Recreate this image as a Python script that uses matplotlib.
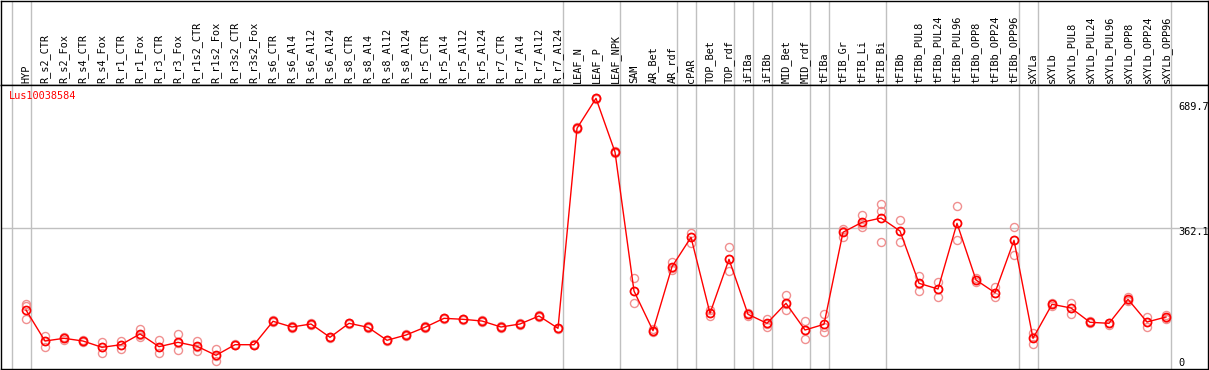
import matplotlib
matplotlib.use('Agg')
import matplotlib.pyplot as plt
import matplotlib.transforms as mtransforms

# gene / sample names
gene = 'Lus10038584'
samples = ['HYP', 'R_s2_CTR', 'R_s2_Fox', 'R_s4_CTR', 'R_s4_Fox', 'R_r1_CTR', 'R_r1_Fox',
           'R_r3_CTR', 'R_r3_Fox', 'R_r1s2_CTR', 'R_r1s2_Fox', 'R_r3s2_CTR', 'R_r3s2_Fox',
           'R_s6_CTR', 'R_s6_Al4', 'R_s6_Al12', 'R_s6_Al24', 'R_s8_CTR', 'R_s8_Al4',
           'R_s8_Al12', 'R_s8_Al24', 'R_r5_CTR', 'R_r5_Al4', 'R_r5_Al12', 'R_r5_Al24',
           'R_r7_CTR', 'R_r7_Al4', 'R_r7_Al12', 'R_r7_Al24', 'LEAF_N', 'LEAF_P', 'LEAF_NPK',
           'SAM', 'AR_Bet', 'AR_rdf', 'cPAR', 'TOP_Bet', 'TOP_rdf', 'iFIBa', 'iFIBb',
           'MID_Bet', 'MID_rdf', 'tFIBa', 'tFIB_Gr', 'tFIB_Li', 'tFIB_Bi', 'tFIBb',
           'tFIBb_PUL8', 'tFIBb_PUL24', 'tFIBb_PUL96', 'tFIBb_OPP8', 'tFIBb_OPP24',
           'tFIBb_OPP96', 'sXYLa', 'sXYLb', 'sXYLb_PUL8', 'sXYLb_PUL24', 'sXYLb_PUL96',
           'sXYLb_OPP8', 'sXYLb_OPP24', 'sXYLb_OPP96']

# mean expression
mean = [156.2, 78.1, 84.9, 78.1, 62.2, 68.8, 95.8, 63.8, 74.8, 64.8, 42.1, 68.8, 68.8,
        127.8, 113.4, 121.0, 87.4, 122.7, 112.7, 79.9, 93.2, 112.7, 135.3, 132.8, 128.5,
        113.4, 121.0, 141.1, 110.1, 614.2, 689.7, 554.4, 204.1, 104.1, 265.4, 339.5,
        147.9, 284.0, 145.4, 122.7, 173.1, 105.8, 120.2, 352.1, 377.3, 388.1, 355.3,
        223.5, 209.2, 374.7, 231.9, 199.8, 331.9, 84.9, 170.6, 161.3, 125.3, 122.7,
        183.2, 126.0, 138.6]

# replicates
rep1 = [171.4, 90.7, 88.2, 80.6, 76.4, 78.9, 107.6, 80.6, 95.8, 78.9, 58.7, 70.6, 70.0,
        129.8, 115.9, 123.0, 89.4, 124.7, 114.7, 81.9, 95.2, 114.7, 137.3, 134.8, 130.5,
        115.4, 123.0, 143.1, 112.1, 617.0, 691.5, 557.0, 237.6, 108.4, 278.0, 351.1,
        156.3, 314.3, 148.7, 134.3, 193.3, 127.8, 146.2, 360.4, 394.9, 422.6, 382.3,
        241.9, 226.1, 417.6, 236.9, 213.5, 364.7, 97.5, 173.9, 174.6, 127.3, 124.7,
        189.0, 139.4, 143.6]
rep2 = [166.3, 78.1, 84.9, 78.1, 63.0, 68.8, 93.2, 63.0, 73.1, 63.0, 40.3, 68.8, 69.0,
        127.8, 113.4, 121.0, 87.4, 122.7, 112.7, 79.9, 93.2, 112.7, 135.3, 132.8, 128.5,
        113.4, 121.0, 141.1, 110.1, 614.2, 689.7, 554.4, 204.1, 103.3, 262.1, 340.2,
        147.9, 284.8, 145.4, 121.0, 171.4, 105.8, 113.4, 355.3, 373.0, 405.7, 355.3,
        221.8, 209.2, 374.7, 231.9, 199.1, 332.7, 88.2, 170.6, 161.3, 125.3, 122.7,
        181.5, 126.0, 136.1]
rep3 = [132.8, 63.0, 81.4, 75.6, 47.9, 58.7, 87.4, 47.9, 55.4, 52.9, 28.5, 67.0, 67.5,
        125.8, 110.9, 119.0, 85.4, 120.7, 110.7, 77.9, 91.2, 110.7, 133.3, 130.8, 126.5,
        111.4, 119.0, 139.1, 108.1, 611.5, 687.5, 551.5, 173.1, 100.8, 257.1, 325.9,
        141.1, 253.8, 141.1, 114.2, 156.3, 82.4, 101.6, 339.5, 364.7, 328.4, 326.9,
        203.4, 189.8, 331.9, 226.8, 189.8, 295.6, 69.8, 166.3, 146.2, 123.5, 119.7,
        178.9, 114.2, 133.6]

# index of the last sample in each group (separator lines)
group_ends = [-1, 0, 28, 31, 34, 35, 37, 38, 39, 41, 42, 45, 52, 53, 60]
ref_value = 362.1

W, H = 1209, 370
fig = plt.figure(figsize=(W / 100, H / 100), dpi=100)
font = 'DejaVu Sans Mono'

x = list(range(len(samples)))
xlim = ((1 - 26) / 19, (1208 - 26) / 19)

# header with the sample names
hdr = fig.add_axes([1 / W, (H - 85) / H, 1207 / W, 85 / H - 0.5 / H])
hdr.set_xlim(*xlim)
hdr.set_ylim(0, 1)
hdr.set_xticks([])
hdr.set_yticks([])
for s in hdr.spines.values():
    s.set_linewidth(1.0)
for i, name in enumerate(samples):
    hdr.text(i, 0.025, name, rotation=90, ha='center', va='bottom',
             fontsize=7.4, family=font, color='black')
for g in group_ends:
    hdr.axvline(g + 0.25, color='#c0c0c0', lw=1.0, zorder=0)

# main plot
ax = fig.add_axes([1 / W, 1 / H, 1207 / W, (369 - 85) / H])
ax.set_xlim(*xlim)
scale = 0.3968
ax.set_ylim((372 - 369) / scale, (372 - 85) / scale)
ax.set_xticks([])
ax.set_yticks([])
for s in ax.spines.values():
    s.set_linewidth(1.0)
for g in group_ends:
    ax.axvline(g + 0.25, color='#c0c0c0', lw=1.0, zorder=0)
ax.axhline(ref_value, color='#c0c0c0', lw=1.0, zorder=0)

for rep in (rep1, rep2, rep3):
    ax.plot(x, rep, linestyle='none', marker='o', markersize=5.8,
            markerfacecolor='none', markeredgecolor='#f09090', markeredgewidth=1.0, zorder=2)
ax.plot(x, mean, color='red', lw=1.0, marker='o', markersize=5.8,
        markerfacecolor='none', markeredgecolor='red', markeredgewidth=1.2, zorder=3)

ax.text(9 / W * 0 + (9 - 1) / 1207, 1 - (95.7 - 85) / 284, gene, transform=ax.transAxes,
        ha='left', va='center', fontsize=7.4, family=font, color='red')

trans = mtransforms.blended_transform_factory(ax.transAxes, ax.transData)
for val, off in ((max(mean), -6.0), (ref_value, -3.0), (0, 6.7)):
    lab = '0' if val == 0 else f'{val:.1f}'
    ax.annotate(lab, xy=((1178.7 - 1) / 1207, val), xycoords=trans,
                xytext=(0, off), textcoords='offset points', ha='left', va='center',
                fontsize=7.4, family=font, color='black', annotation_clip=False)

fig.savefig('out.png', dpi=100)
